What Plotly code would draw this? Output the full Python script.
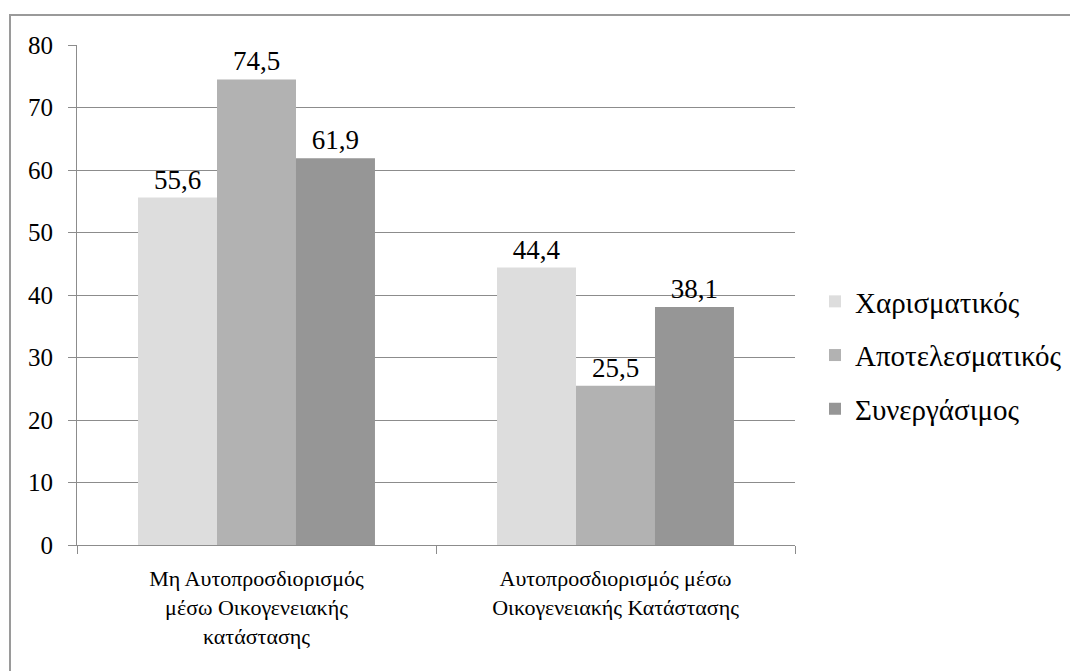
import plotly.graph_objects as go

categories = ["Μη Αυτοπροσδιορισμός<br>μέσω Οικογενειακής<br>κατάστασης",
              "Αυτοπροσδιορισμός μέσω<br>Οικογενειακής Κατάστασης"]
series_names = ["Χαρισματικός", "Αποτελεσματικός", "Συνεργάσιμος"]
series_values = [
    [55.6, 44.4],
    [74.5, 25.5],
    [61.9, 38.1],
]
series_colors = ["#DDDDDD", "#B2B2B2", "#969696"]
y_ticks = [0, 10, 20, 30, 40, 50, 60, 70, 80]

FONT = "Liberation Serif"

fig = go.Figure()
for name, vals, col in zip(series_names, series_values, series_colors):
    fig.add_trace(go.Bar(
        x=categories, y=vals, name=name, legendgroup=name,
        marker=dict(color=col, line=dict(width=0)),
        text=[f"{v:.1f}".replace(".", ",") for v in vals],
        textposition="outside", textfont=dict(family=FONT, size=27, color="black"),
        cliponaxis=False,
    ))

OFF = 8
W, H = 1078, 671
ml, mt = 77 - OFF, 45 - OFF
pw, ph = 718, 500
mr = W - ml - pw
mb = H - mt - ph

def px_x(x):
    return (x - OFF - ml) / pw

def px_y(y):
    return (mt + ph - (y - OFF)) / ph

fig.update_layout(
    width=W, height=H,
    margin=dict(l=ml, r=mr, t=mt, b=mb, autoexpand=False),
    paper_bgcolor="white", plot_bgcolor="white",
    barmode="group", bargap=0.34, bargroupgap=0,
    font=dict(family=FONT, size=24, color="black"),
    showlegend=True,
    legend=dict(x=px_x(815), y=px_y(276), xanchor="left", yanchor="top",
                font=dict(family=FONT, size=29, color="black"),
                itemwidth=30, tracegroupgap=13, traceorder="grouped"),
    xaxis=dict(showline=True, linecolor="#8C8C8C", linewidth=1,
               ticks="outside", tickson="boundaries", ticklen=8, tickcolor="#8C8C8C",
               tickfont=dict(family=FONT, size=22, color="black"), tickangle=0,
               ticklabelstandoff=14, showgrid=False),
    yaxis=dict(range=[0, 80], tickvals=y_ticks, showline=True, linecolor="#8C8C8C",
               linewidth=1, ticks="outside", ticklen=8, tickcolor="#8C8C8C",
               gridcolor="#8C8C8C", gridwidth=1, zeroline=False,
               tickfont=dict(family=FONT, size=25, color="black"),
               ticklabelstandoff=10),
    shapes=[dict(type="rect", xref="paper", yref="paper",
                 x0=px_x(10), x1=px_x(1100), y0=px_y(700), y1=px_y(15),
                 line=dict(color="#9A9A9A", width=2), fillcolor="rgba(0,0,0,0)", layer="below")],
)

fig.write_html("out.html")
